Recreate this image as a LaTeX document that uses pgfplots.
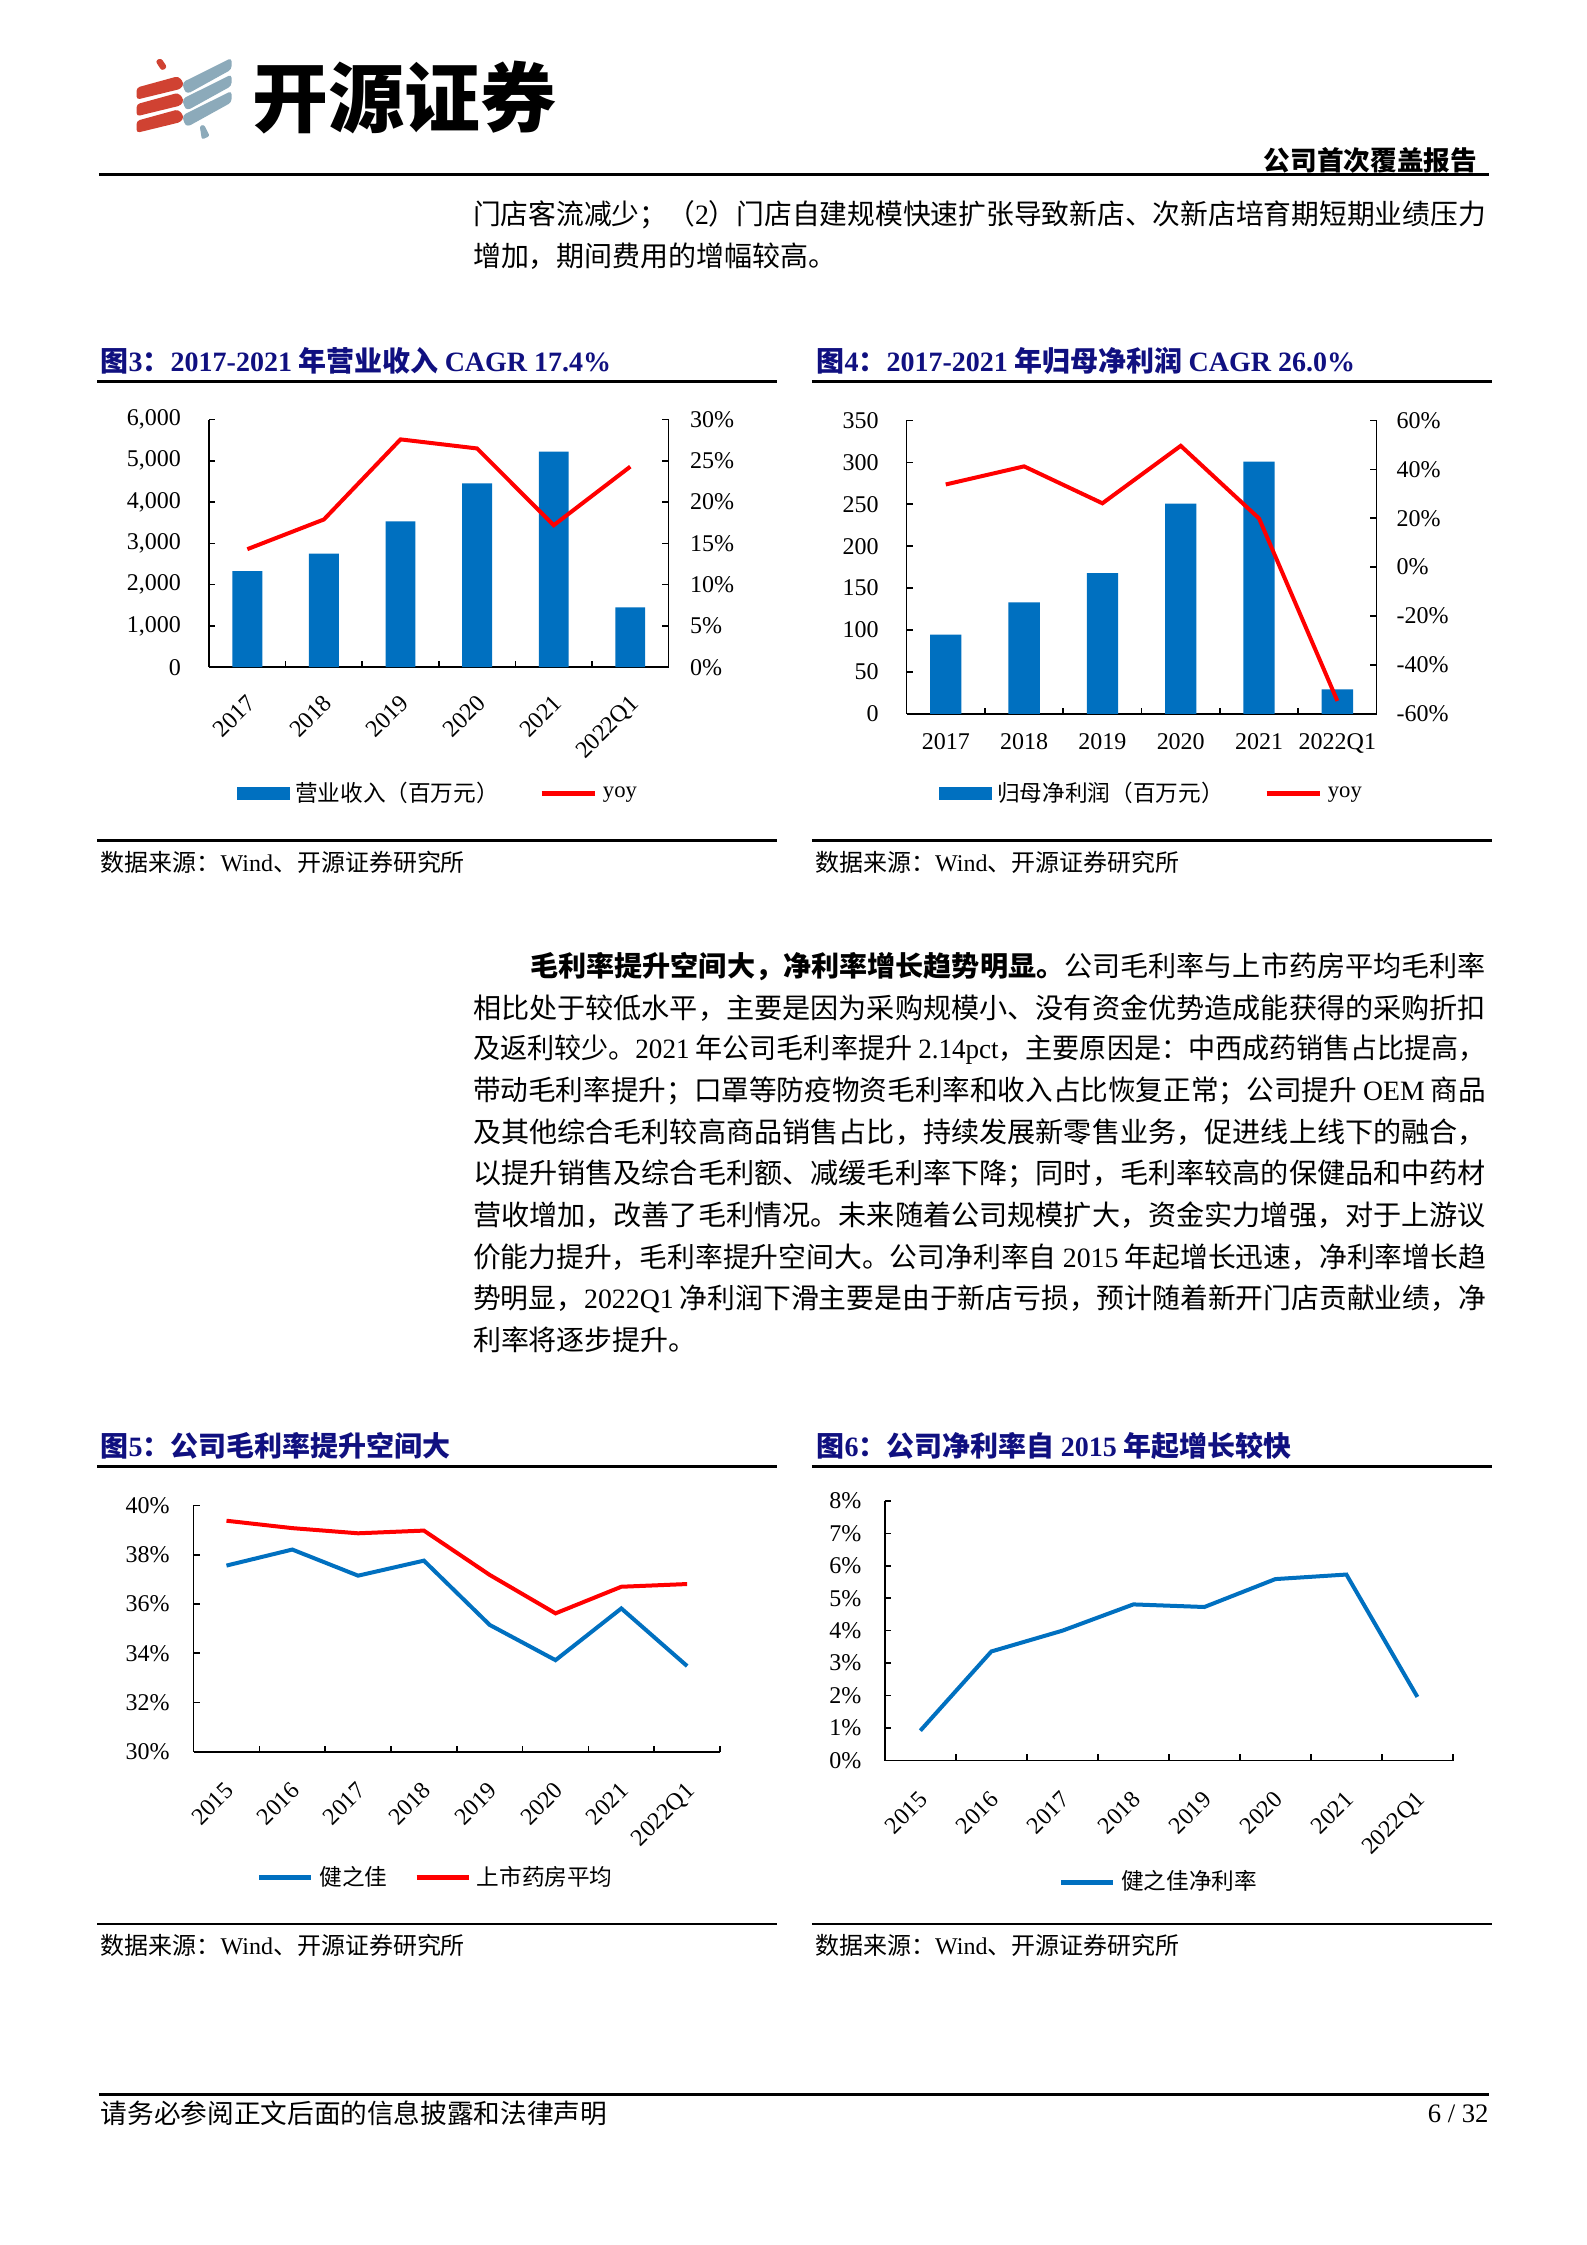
\documentclass[border=0pt]{standalone}
\usepackage{fontspec}
\setmainfont{Noto Sans CJK SC}
\newfontfamily\tnr{Liberation Serif}
\usepackage{graphicx}
\usepackage{pgfplots}
\pgfplotsset{compat=1.18}
\definecolor{navy}{RGB}{16,16,128}
\definecolor{barblue}{RGB}{0,112,192}
\definecolor{lred}{RGB}{255,0,0}
\definecolor{logored}{RGB}{208,66,50}
\definecolor{logoblue}{RGB}{140,170,186}
\pgfplotsset{
  pc/.style={scale only axis, anchor=south west, clip=false,
    /pgf/number format/assume math mode=true,
    tick label style={font=\tnr\fontsize{9}{10}\selectfont, text=black},
    axis line style={-, line width=0.6pt, black},
    tick style={line width=0.6pt, black},
    major tick length=2.3pt,
    tick align=inside,
    scaled y ticks=false,
    legend style={draw=none, fill=none, inner sep=0pt, anchor=west,
      font=\fontsize{8.5}{10}\selectfont,
      /tikz/every even column/.append style={column sep=13pt}},
    legend columns=2,
    legend cell align=left,
  },
}
\newcommand{\bodyfont}{\fontsize{10.5}{12}\selectfont}
\newcommand{\bline}[3]{\node[anchor=west, inner sep=0pt] at (#1,#2) {\bodyfont\resizebox{380pt}{\height}{#3}};}
\begin{document}
\begin{tikzpicture}
\begin{scope}[x=0.5371pt, y=-0.5371pt]
  \fill[white] (0,0) rectangle (1108,1568);
  % logo
  \foreach \k in {0,1,2} {
    \fill[logored, rounded corners=1.2pt] (95.4,{61.2+11.6*\k}) -- (124.5,{53.2+11.6*\k}) -- (128.5,{58+11.6*\k}) -- (126.5,{62+11.6*\k}) -- (95.4,{69.6+11.6*\k}) -- cycle;
    \fill[logoblue, rounded corners=1.2pt] (127.5,{57.5+11.5*\k}) -- (161.7,{40.5+11.5*\k}) -- (161.7,{48.5+11.5*\k}) -- (131,{65.5+11.5*\k}) -- (128.5,{63+11.5*\k}) -- cycle;
  }
  \fill[logored, rounded corners=1pt] (108.5,42.5) -- (112.5,40.5) -- (116.8,47) -- (113,49.5) -- cycle;
  \fill[logoblue, rounded corners=0.8pt] (139.5,88) -- (142.5,87) -- (146.5,95) -- (141,97.5) -- cycle;
  \node[anchor=west, inner sep=0pt] at (176,68) {\fontsize{28.5}{30}\selectfont\bfseries 开源证券};
  \node[anchor=east, inner sep=0pt] at (1032,112) {\fontsize{10}{12}\selectfont\bfseries 公司首次覆盖报告};
  \draw[line width=1.2pt] (69,122) -- (1040,122);
  % first paragraph
  \bline{330}{150}{门店客流减少；（{\tnr 2}）门店自建规模快速扩张导致新店、次新店培育期短期业绩压力}
  \node[anchor=west, inner sep=0pt] at (330,179) {\bodyfont 增加，期间费用的增幅较高。};
  % chart titles and rules (top row)
  \node[anchor=west, inner sep=0pt, text=navy] at (70,252) {\fontsize{10.5}{12}\selectfont\bfseries 图{\tnr 3}：{\tnr 2017-2021} 年营业收入 {\tnr CAGR 17.4\%}};
  \node[anchor=west, inner sep=0pt, text=navy] at (570,252) {\fontsize{10.5}{12}\selectfont\bfseries 图{\tnr 4}：{\tnr 2017-2021} 年归母净利润 {\tnr CAGR 26.0\%}};
  \draw[line width=0.9pt] (68,266.4) -- (543,266.4);
  \draw[line width=0.9pt] (567,266.4) -- (1042,266.4);
  \draw[line width=0.9pt] (68,587) -- (543,587);
  \draw[line width=0.9pt] (567,587) -- (1042,587);
  \node[anchor=west, inner sep=0pt] at (70,602) {\fontsize{9}{10}\selectfont 数据来源：{\tnr Wind}、开源证券研究所};
  \node[anchor=west, inner sep=0pt] at (569,602) {\fontsize{9}{10}\selectfont 数据来源：{\tnr Wind}、开源证券研究所};
  % second paragraph
  \node[anchor=west, inner sep=0pt] at (370,675) {\bodyfont\resizebox{358.5pt}{\height}{{\bfseries 毛利率提升空间大，净利率增长趋势明显。}公司毛利率与上市药房平均毛利率}};
  \bline{330}{704}{相比处于较低水平，主要是因为采购规模小、没有资金优势造成能获得的采购折扣}
  \bline{330}{733}{及返利较少。{\tnr 2021} 年公司毛利率提升 {\tnr 2.14pct}，主要原因是：中西成药销售占比提高，}
  \bline{330}{762}{带动毛利率提升；口罩等防疫物资毛利率和收入占比恢复正常；公司提升 {\tnr OEM} 商品}
  \bline{330}{791}{及其他综合毛利较高商品销售占比，持续发展新零售业务，促进线上线下的融合，}
  \bline{330}{820}{以提升销售及综合毛利额、减缓毛利率下降；同时，毛利率较高的保健品和中药材}
  \bline{330}{849}{营收增加，改善了毛利情况。未来随着公司规模扩大，资金实力增强，对于上游议}
  \bline{330}{878}{价能力提升，毛利率提升空间大。公司净利率自 {\tnr 2015} 年起增长迅速，净利率增长趋}
  \bline{330}{907}{势明显，{\tnr 2022Q1} 净利润下滑主要是由于新店亏损，预计随着新开门店贡献业绩，净}
  \node[anchor=west, inner sep=0pt] at (330,936) {\bodyfont 利率将逐步提升。};
  % bottom row titles
  \node[anchor=west, inner sep=0pt, text=navy] at (70,1010) {\fontsize{10.5}{12}\selectfont\bfseries 图{\tnr 5}：公司毛利率提升空间大};
  \node[anchor=west, inner sep=0pt, text=navy] at (570,1010) {\fontsize{10.5}{12}\selectfont\bfseries 图{\tnr 6}：公司净利率自 {\tnr 2015} 年起增长较快};
  \draw[line width=0.9pt] (68,1024.2) -- (543,1024.2);
  \draw[line width=0.9pt] (567,1024.2) -- (1042,1024.2);
  \draw[line width=0.9pt] (68,1343.8) -- (543,1343.8);
  \draw[line width=0.9pt] (567,1343.8) -- (1042,1343.8);
  \node[anchor=west, inner sep=0pt] at (70,1359) {\fontsize{9}{10}\selectfont 数据来源：{\tnr Wind}、开源证券研究所};
  \node[anchor=west, inner sep=0pt] at (569,1359) {\fontsize{9}{10}\selectfont 数据来源：{\tnr Wind}、开源证券研究所};
  % footer
  \draw[line width=1.2pt] (69,1463) -- (1040,1463);
  \node[anchor=west, inner sep=0pt] at (70,1476) {\fontsize{10}{12}\selectfont 请务必参阅正文后面的信息披露和法律声明};
  \node[anchor=east, inner sep=0pt] at (1040,1476) {\tnr\fontsize{10}{12}\selectfont 6 / 32};
  % anchors
  \coordinate (A3) at (146,466);
  \coordinate (A4) at (633.2,498.6);
  \coordinate (A5) at (135.2,1223.5);
  \coordinate (A6) at (618,1229.6);
\end{scope}

% ---------- Chart 3 ----------
\begin{axis}[pc, at={(A3)}, width=172.4pt, height=92.9pt,
  xmin=-0.5, xmax=5.5, ymin=0, ymax=6000, ytick={0,1000,...,6000},
  axis x line*=bottom, axis y line*=left,
  xtick={0.5,1.5,...,4.5}, xticklabels={},
  extra x ticks={0,1,2,3,4,5},
  extra x tick labels={2017,2018,2019,2020,2021,2022Q1},
  extra x tick style={major tick length=0pt, tick label style={rotate=45, anchor=north east, yshift=-3pt, xshift=-4pt}},
  y tick label style={xshift=-7pt}]
\addplot[ybar, bar width=0.39, fill=barblue, draw=none] coordinates {(0,2330) (1,2755) (2,3531) (3,4457) (4,5225) (5,1452)};
\end{axis}
\begin{axis}[pc, at={(A3)}, width=172.4pt, height=92.9pt,
  xmin=-0.5, xmax=5.5, ymin=0, ymax=30, ytick={0,5,...,30},
  axis x line=none, axis y line*=right,
  yticklabel={\pgfmathprintnumber{\tick}\%},
  y tick label style={xshift=4.5pt},
  legend style={at={(axis description cs:0.0601,-0.511)}}]
\addlegendimage{legend image code/.code={\fill[barblue] (0pt,-2.3pt) rectangle (19.3pt,2.3pt);}}
\addlegendentry{营业收入（百万元）}
\addplot[lred, line width=1.5pt, legend image code/.code={\draw[lred, line width=2pt] (0pt,0pt) -- (20pt,0pt);}] coordinates {(0,14.3) (1,17.9) (2,27.6) (3,26.5) (4,17.2) (5,24.3)};
\addlegendentry{{\tnr yoy}}
\end{axis}

% ---------- Chart 4 ----------
\begin{axis}[pc, at={(A4)}, width=176.3pt, height=110.1pt,
  xmin=-0.5, xmax=5.5, ymin=0, ymax=350, ytick={0,50,...,350},
  axis x line*=bottom, axis y line*=left,
  xtick={0.5,1.5,...,4.5}, xticklabels={},
  extra x ticks={0,1,2,3,4,5},
  extra x tick labels={2017,2018,2019,2020,2021,2022Q1},
  extra x tick style={major tick length=0pt, tick label style={yshift=-4pt}},
  y tick label style={xshift=-7pt}]
\addplot[ybar, bar width=0.40, fill=barblue, draw=none] coordinates {(0,94.4) (1,133) (2,167.8) (3,250.7) (4,300.8) (5,29.1)};
\end{axis}
\begin{axis}[pc, at={(A4)}, width=176.3pt, height=110.1pt,
  xmin=-0.5, xmax=5.5, ymin=-60, ymax=60, ytick={-60,-40,...,60},
  axis x line=none, axis y line*=right,
  yticklabel={\pgfmathprintnumber{\tick}\%},
  y tick label style={xshift=4pt},
  legend style={at={(axis description cs:0.0688,-0.272)}}]
\addlegendimage{legend image code/.code={\fill[barblue] (0pt,-2.3pt) rectangle (19.3pt,2.3pt);}}
\addlegendentry{归母净利润（百万元）}
\addplot[lred, line width=1.5pt, legend image code/.code={\draw[lred, line width=2pt] (0pt,0pt) -- (20pt,0pt);}] coordinates {(0,33.8) (1,41.2) (2,26.1) (3,49.6) (4,19.9) (5,-54.7)};
\addlegendentry{{\tnr yoy}}
\end{axis}

% ---------- Chart 5 ----------
\begin{axis}[pc, at={(A5)}, width=197.5pt, height=92.4pt,
  xmin=-0.5, xmax=7.5, ymin=30, ymax=40, ytick={30,32,...,40},
  axis x line*=bottom, axis y line*=left,
  xtick={0.5,1.5,...,7.5}, xticklabels={},
  extra x ticks={0,1,2,3,4,5,6,7},
  extra x tick labels={2015,2016,2017,2018,2019,2020,2021,2022Q1},
  extra x tick style={major tick length=0pt, tick label style={rotate=45, anchor=north east, yshift=-3.5pt, xshift=-5pt}},
  yticklabel={\pgfmathprintnumber{\tick}\%},
  y tick label style={xshift=-5.5pt},
  legend style={at={(axis description cs:0.119,-0.5105)}, /tikz/every even column/.append style={column sep=8pt}}]
\addplot[barblue, line width=1.5pt, legend image code/.code={\draw[barblue, line width=2pt] (0pt,0pt) -- (19.5pt,0pt);}] coordinates {(0,37.56) (1,38.21) (2,37.15) (3,37.76) (4,35.15) (5,33.72) (6,35.82) (7,33.48)};
\addlegendentry{健之佳}
\addplot[lred, line width=1.5pt, legend image code/.code={\draw[lred, line width=2pt] (0pt,0pt) -- (19.5pt,0pt);}] coordinates {(0,39.38) (1,39.08) (2,38.87) (3,38.98) (4,37.18) (5,35.62) (6,36.70) (7,36.81)};
\addlegendentry{上市药房平均}
\end{axis}

% ---------- Chart 6 ----------
\begin{axis}[pc, at={(A6)}, width=213.1pt, height=97.4pt,
  xmin=-0.5, xmax=7.5, ymin=0, ymax=8, ytick={0,1,...,8},
  axis x line*=bottom, axis y line*=left,
  xtick={0.5,1.5,...,7.5}, xticklabels={},
  extra x ticks={0,1,2,3,4,5,6,7},
  extra x tick labels={2015,2016,2017,2018,2019,2020,2021,2022Q1},
  extra x tick style={major tick length=0pt, tick label style={rotate=45, anchor=north east, yshift=-3.5pt, xshift=-5pt}},
  yticklabel={\pgfmathprintnumber{\tick}\%},
  y tick label style={xshift=-5.3pt},
  legend style={at={(axis description cs:0.305,-0.469)}}]
\addplot[barblue, line width=1.5pt, legend image code/.code={\draw[barblue, line width=2pt] (0pt,0pt) -- (19.5pt,0pt);}] coordinates {(0,0.92) (1,3.36) (2,4.00) (3,4.81) (4,4.73) (5,5.59) (6,5.73) (7,1.96)};
\addlegendentry{健之佳净利率}
\end{axis}
\end{tikzpicture}
\end{document}
